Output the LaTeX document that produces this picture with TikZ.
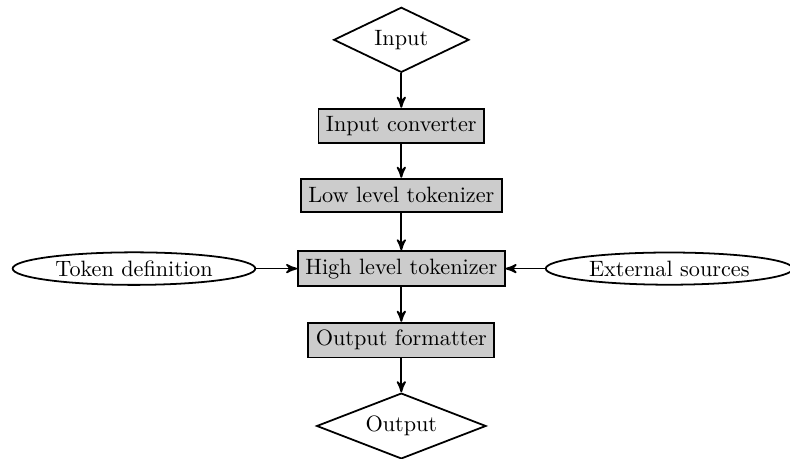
\documentclass[tikz,border=0pt]{standalone}
\usepackage{tikz}
\usetikzlibrary{shapes,arrows,positioning,calc}

\begin{document}
\begin{tikzpicture}[
    process/.style={rectangle, draw, thick, fill=gray!40, minimum height=15pt},
    decision/.style={diamond, draw, thick, aspect=2, inner sep=0pt},
    source/.style={ellipse, draw, thick, inner xsep=3.2pt, inner ysep=1.6pt},
    flow/.style={->, >=stealth', thick}
]
\useasboundingbox (0,0) rectangle (12.5,-7.247);

% Main chain
\node[decision, minimum width=2.14cm, minimum height=1.03cm] (input) at (6.35, -0.63) {Input};
\node[process] (conv) at (6.35, -1.99) {Input converter};
\node[process] (lowtok) at (6.35, -3.09) {Low level tokenizer};
\node[process] (hightok) at (6.35, -4.25) {High level tokenizer};
\node[process] (outfmt) at (6.35, -5.38) {Output formatter};
\node[decision, minimum width=2.68cm, minimum height=1.04cm] (output) at (6.35, -6.74) {Output};

% Side inputs
\node[source] (tokdef) at (2.12, -4.25) {Token definition};
\node[source] (extsrc) at (10.59, -4.25) {External sources};

% Arrows
\draw[flow] (input) -- (conv);
\draw[flow] (conv) -- (lowtok);
\draw[flow] (lowtok) -- (hightok);
\draw[flow] (hightok) -- (outfmt);
\draw[flow] (outfmt) -- (output);
\draw[flow] (tokdef) -- (hightok);
\draw[flow] (extsrc) -- (hightok);

\end{tikzpicture}
\end{document}
